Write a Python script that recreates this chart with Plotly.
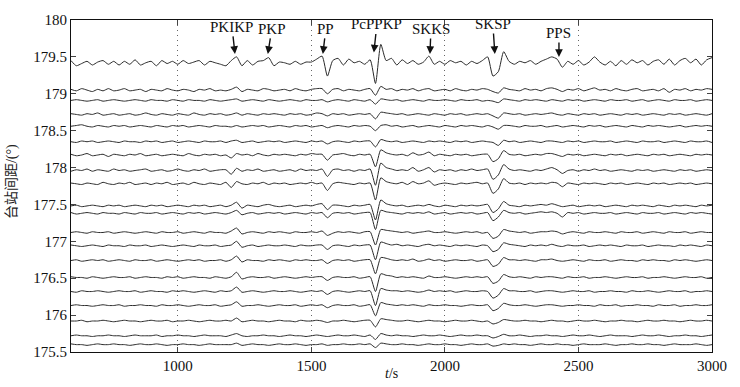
import plotly.graph_objects as go

# sampling grid (s)
times = list(range(600, 3001, 20))

# baseline epicentral distance of each trace (deg)
distances = [179.42, 179.05, 178.91, 178.72, 178.56, 178.35, 178.17, 177.96, 177.78, 177.48,
             177.38, 177.12, 176.94, 176.74, 176.51, 176.32, 176.13, 175.92, 175.72, 175.60]

# waveform amplitudes, in units of 0.01 deg
tr01 = [3, -4, -1, 2, -3, 1, 3, -2, 2, -3,
        2, -2, 4, -3, 0, 2, -4, 3, -1, 2,
        -2, 3, -1, 1, 3, -3, 2, 0, -2, -4,
        3, 8, -4, 3, -3, 2, 3, 7, -4, 1,
        0, -2, 2, -2, 1, 1, 5, 9, -18, 3,
        6, -3, 5, 0, 2, -2, 4, -28, 25, 3,
        6, -3, 4, -1, 3, -2, 1, 9, -2, 2,
        -2, 3, 0, 2, -3, 2, -1, 3, 8, -18,
        -12, 15, 2, -2, 2, 0, 3, -2, 2, 5,
        8, 5, -6, 2, -2, 3, -3, 1, 8, 1,
        -3, 2, -4, 3, -2, 4, 0, 3, -3, 2,
        4, -2, 5, -3, 3, 6, 0, 5, -3, 4, 7]
tr02 = [1, -1, 2, 0, -2, 1, -1, 2, -1, 0,
        2, -1, 0, 1, -2, 1, 0, -1, 2, 0,
        -1, 1, 0, -2, 1, 0, 2, -1, 0, -1,
        1, 4, -2, 1, 0, -1, 2, 1, -1, 0,
        1, -1, 2, 0, -1, 1, 2, 2, -5, 1,
        2, -1, 1, 0, -1, 1, 2, -7, 5, 1,
        2, -1, 1, 0, 2, -1, 1, 2, -1, 0,
        1, -1, 2, 0, -1, 1, 0, 2, 1, -2,
        -4, 3, 1, 0, -1, 2, 0, 1, -1, 2,
        3, 1, -2, 1, 0, 2, -1, 1, 3, 0,
        1, -1, 2, 0, -1, 1, 2, -1, 0, 1,
        -1, 2, -3, 1, 0, 2, -1, 1, 0, 2, 1]
tr03 = [0, 1, 0, -1, 0, 1, -1, 0, 1, 0,
        -1, 0, 1, 0, -1, 1, 0, 0, -1, 1,
        0, -1, 1, 0, 0, -1, 1, 0, -1, 0,
        1, 2, -1, 0, 1, 0, -1, 1, 0, -1,
        0, 1, 0, -1, 1, 0, 0, 1, -2, 0,
        1, 0, -1, 1, 0, -1, 1, -5, 2, 1,
        0, 1, -1, 0, 1, 0, -1, 1, 0, 0,
        1, 0, -1, 1, 0, 0, 1, -1, 0, -1,
        -3, 2, 1, 0, -1, 1, 0, 1, 0, -1,
        1, 0, -1, 1, 0, 1, -1, 0, 1, 0,
        -1, 1, 0, 0, 1, -1, 0, 1, -1, 0,
        1, 0, -1, 1, 0, 0, 1, -1, 0, 1, 0]
tr04 = [1, 0, -1, 1, 0, 2, -1, 0, 1, -1,
        0, 1, -1, 0, 2, 0, -1, 1, 0, -1,
        1, 0, -1, 2, 0, -1, 1, 0, 1, -1,
        0, 2, -1, 1, 0, -1, 1, 0, 1, 0,
        -1, 1, 0, 1, -1, 0, 2, 1, -2, 1,
        0, 1, -1, 0, 1, 0, 1, -6, 3, 2,
        1, 0, 1, -1, 0, 1, 0, -1, 1, 0,
        -1, 1, 0, 1, -1, 0, 1, 0, 1, -2,
        -5, 2, 1, 0, 1, -1, 0, 1, 0, 1,
        2, 0, -1, 1, 0, -1, 1, 0, 1, -1,
        0, 1, 0, -1, 1, 0, 1, -1, 0, 1,
        0, -1, 1, 0, 1, -1, 0, 1, 0, -1, 1]
tr05 = [0, 1, 2, 0, -1, 1, 0, -1, 1, 0,
        1, -1, 0, 1, 0, -1, 1, 0, -1, 1,
        0, 1, -1, 0, 1, 0, -1, 1, 0, 0,
        -1, 1, -1, 0, 1, 0, 1, -1, 0, 1,
        0, -1, 1, 0, 1, -1, 0, 1, -2, 0,
        1, 0, -1, 1, 0, 1, 0, -6, 1, 2,
        0, 1, -1, 0, 1, -1, 0, 1, 0, -1,
        1, 0, -1, 1, 0, 1, 0, -1, 1, -1,
        -4, 1, 1, 0, -1, 1, 0, 0, 1, -1,
        0, 1, -1, 0, 1, 0, -1, 1, 0, 1,
        -1, 0, 1, 0, -1, 1, 0, -1, 1, 0,
        1, 0, -1, 0, 1, -1, 0, 1, 0, 1, 0]
tr06 = [0, -1, 1, 0, 1, -1, 0, 1, 0, -1,
        1, 0, 0, -1, 1, 0, 1, -1, 0, 1,
        -1, 0, 1, 0, -1, 1, 0, 0, 1, -1,
        1, 2, -1, 0, 1, -1, 0, 1, 0, 1,
        -1, 0, 1, 0, -1, 1, 0, 1, -3, 0,
        1, 0, -1, 1, 0, 1, 1, -7, 3, 1,
        0, 1, -1, 0, 1, 0, -1, 1, 0, 1,
        0, -1, 1, 0, 1, -1, 0, 1, 0, -1,
        -5, 2, 0, 1, -1, 0, 1, 0, -1, 1,
        1, 0, -1, 1, 0, 1, -1, 0, 1, 0,
        0, 1, -1, 0, 1, 0, -1, 1, 0, 0,
        1, -1, 0, 1, 0, -1, 1, 0, 0, 1, -1]
tr07 = [1, -1, 0, 2, -1, 0, 1, -2, 1, 0,
        -1, 1, 0, 2, -1, 0, 1, -1, 0, 1,
        0, -1, 2, 0, -1, 1, 0, 1, -1, 0,
        -4, 2, 0, 1, -1, 2, 0, -1, 1, 0,
        1, 0, -1, 1, 0, 2, 1, 1, -7, 0,
        1, 2, 0, -1, 1, 0, 1, -16, 7, 3,
        1, 0, 1, -1, 3, 0, 1, 4, -1, 1,
        0, -1, 1, 0, 1, -1, 0, 1, 1, -9,
        -5, 6, 1, 0, 1, -1, 0, 1, 0, 2,
        2, 0, -2, 1, 0, 1, -1, 0, 1, 0,
        -1, 1, 0, 1, -1, 0, 1, 0, -1, 1,
        0, 1, -1, 0, 1, 0, -1, 1, 0, 1, 0]
tr08 = [-1, 1, 0, 2, -1, 1, 0, -1, 2, 0,
        1, -1, 0, 1, 2, -1, 0, 1, -1, 0,
        2, 0, -1, 1, 0, 2, -1, 0, 1, 1,
        -5, 3, -1, 1, 0, 2, -1, 0, 1, -1,
        0, 1, -1, 2, 0, 1, 0, 2, -8, 1,
        2, 0, 1, -1, 1, 0, 2, -20, 10, 4,
        2, 0, 1, 0, 4, -1, 1, 4, -2, 1,
        0, 1, -1, 1, 0, 2, 0, 1, 2, -12,
        -6, 8, 2, 0, 1, 0, -1, 1, 0, 2,
        4, 1, -4, 0, 1, -1, 1, 0, 2, 0,
        1, -1, 0, 1, 0, -1, 1, 0, 1, -1,
        0, 1, 0, -1, 1, 0, 1, -1, 0, 1, 0]
tr09 = [1, 0, -1, 1, 0, -1, 2, 0, -1, 1,
        0, 2, -1, 0, 1, -1, 1, 0, 2, -1,
        0, 1, -1, 2, 0, -1, 1, 0, -1, 2,
        -5, 3, 0, -1, 1, 0, 2, -1, 1, 0,
        1, -1, 0, 1, 0, 2, 0, 1, -9, 0,
        2, 1, 0, -1, 1, 0, 1, -22, 8, 3,
        1, 0, 2, -1, 3, 0, 1, 4, -2, 0,
        1, 0, -1, 1, 0, 1, 2, 0, 1, -13,
        -7, 7, 1, 0, 1, -1, 1, 0, 1, 0,
        2, 1, -4, 1, 0, -1, 1, 0, 1, 0,
        -1, 1, 0, 1, -1, 0, 1, 0, -1, 1,
        0, 1, -1, 0, 1, 0, 1, -1, 0, 1, 0]
tr10 = [0, 1, -1, 0, 1, 0, -1, 1, 0, 1,
        -1, 0, 1, 0, -1, 1, 0, 1, -1, 0,
        1, 0, -1, 1, 0, 1, -1, 0, 1, -1,
        1, 5, -3, 1, 0, -1, 1, 2, 0, -1,
        0, 1, -1, 0, 1, 0, 2, 3, -5, 1,
        1, 0, -1, 1, 0, 1, 2, -19, 8, 3,
        1, 0, 1, -1, 0, 1, 0, 2, 0, -1,
        1, 0, -1, 1, 0, 1, 0, 1, 2, -9,
        -4, 6, 1, 0, -1, 1, 0, 1, 2, 1,
        3, 1, -1, 0, 1, -1, 0, 1, 0, 1,
        -1, 0, 1, 0, -1, 1, 0, 1, 0, -1,
        1, 0, -1, 1, 0, 1, 0, -1, 1, 0, 1]
tr11 = [1, -1, 0, 1, 0, -1, 1, 0, 0, -1,
        1, 0, -1, 1, 0, 0, 1, -1, 0, 1,
        0, -1, 1, 0, 1, -1, 0, 1, 0, -1,
        1, 4, -2, 0, 1, -1, 0, 1, 0, 1,
        -1, 0, 1, 0, -1, 1, 0, 1, -6, 0,
        1, 0, 1, -1, 0, 1, 1, -22, 4, 2,
        1, 0, -1, 1, 0, 1, 0, 2, -1, 0,
        1, -1, 0, 1, 0, 1, -1, 0, 1, -10,
        -5, 4, 1, 0, 1, -1, 0, 1, 2, 1,
        2, 0, -5, 1, 0, 1, -1, 0, 1, 0,
        0, 1, -1, 0, 1, 0, -1, 1, 0, 0,
        1, -1, 0, 1, 0, -1, 1, 0, 1, 0, -1]
tr12 = [0, 1, 0, -1, 1, 0, 0, 1, -1, 0,
        1, 0, -1, 0, 1, 0, -1, 1, 0, 0,
        1, -1, 0, 1, 0, -1, 1, 0, 0, -1,
        2, 6, -2, 0, 1, 0, -1, 1, 0, 1,
        0, -1, 1, 0, 0, 1, 0, 2, -4, -1,
        1, 0, 1, 0, -1, 1, 1, -17, 4, 3,
        2, 1, 0, 1, -1, 0, 1, 2, 0, 0,
        1, 0, -1, 0, 1, 0, 1, -1, 0, -8,
        -5, 4, 2, 1, 0, 1, -1, 0, 1, 1,
        2, 1, -2, 0, 1, 0, -1, 1, 0, 0,
        1, 0, -1, 1, 0, 0, 1, -1, 0, 1,
        0, -1, 1, 0, 0, 1, -1, 0, 1, 0, 0]
tr13 = [1, 0, -1, 0, 1, 0, -1, 1, 0, 0,
        -1, 1, 0, 0, 1, -1, 0, 1, 0, -1,
        0, 1, 0, -1, 1, 0, 0, 1, -1, 0,
        1, 6, -2, 0, 1, -1, 0, 1, 0, 0,
        1, 0, -1, 1, 0, 0, 1, 1, -5, 0,
        1, 0, -1, 1, 0, 1, 1, -19, 5, 3,
        1, 2, 0, 1, 0, -1, 1, 2, 0, 1,
        0, -1, 1, 0, 1, 0, -1, 1, 0, -8,
        -5, 4, 2, 1, 0, -1, 1, 0, 1, 0,
        2, 0, -1, 1, 0, 0, 1, -1, 0, 1,
        0, 1, 0, -1, 1, 0, 0, 1, -1, 0,
        1, 0, 0, -1, 1, 0, 1, 0, -1, 1, 0]
tr14 = [0, 1, -1, 0, 1, 0, 1, -1, 0, 1,
        0, -1, 1, 0, 0, 1, -1, 0, 1, 0,
        -1, 0, 1, 0, 1, -1, 0, 0, 1, -1,
        1, 6, -2, 1, 0, 0, -1, 1, 0, 1,
        0, -1, 1, 0, 1, 0, 0, 1, -4, 0,
        1, 0, 1, -1, 0, 1, 1, -18, 4, 3,
        1, 0, 1, 0, 2, -1, 0, 2, 0, 1,
        -1, 0, 1, 0, 0, 1, -1, 0, 1, -8,
        -5, 4, 1, 1, 0, 1, 0, -1, 1, 1,
        2, 0, -1, 0, 1, 0, -1, 1, 0, 0,
        1, -1, 0, 1, 0, 0, -1, 1, 0, 1,
        0, 0, -1, 1, 0, 1, 0, -1, 0, 1, 0]
tr15 = [1, 0, 0, -1, 1, 0, -1, 0, 1, 0,
        0, 1, -1, 0, 1, 0, 0, -1, 1, 0,
        1, -1, 0, 1, 0, 0, -1, 1, 0, -1,
        1, 7, -2, 0, 1, 0, 0, 1, -1, 0,
        1, 0, -1, 0, 1, 0, 1, 1, -4, 0,
        1, 0, 0, 1, -1, 0, 1, -19, 5, 3,
        2, 0, 1, 0, 1, 0, -1, 2, 0, 0,
        1, 0, -1, 0, 1, 0, 1, 0, 1, -8,
        -5, 4, 1, 0, 1, 0, -1, 1, 0, 1,
        1, 0, -1, 1, 0, 0, 1, -1, 0, 0,
        1, 0, -1, 0, 1, 0, 0, 1, -1, 0,
        0, 1, 0, -1, 0, 1, 0, 0, 1, -1, 0]
tr16 = [0, -1, 1, 0, 0, 1, 0, -1, 0, 1,
        0, 0, 1, -1, 0, 1, 0, 0, -1, 1,
        0, 1, 0, -1, 0, 1, 0, -1, 1, 0,
        1, 6, -1, 0, 1, 0, -1, 0, 1, 0,
        0, 1, 0, -1, 0, 1, 0, 1, -4, 0,
        1, 0, -1, 0, 1, 0, 1, -19, 4, 2,
        1, 1, 0, 1, 0, -1, 0, 2, 0, 1,
        0, 1, -1, 0, 1, 0, 0, 1, 0, -9,
        -5, 4, 1, 1, 0, 0, 1, -1, 0, 1,
        1, 0, -1, 0, 1, 0, 0, 1, -1, 0,
        0, 1, 0, 0, -1, 1, 0, 0, 1, 0,
        -1, 0, 1, 0, 0, 1, -1, 0, 0, 1, 0]
tr17 = [0, 1, 0, 0, -1, 0, 1, 0, 0, 1,
        -1, 0, 0, 1, 0, 0, -1, 1, 0, 0,
        1, 0, -1, 0, 1, 0, 0, 1, -1, 0,
        1, 5, -1, 0, 0, 1, 0, -1, 0, 1,
        0, 0, 1, -1, 0, 1, 0, 1, -3, 0,
        1, 0, 0, 1, -1, 0, 1, -14, 4, 2,
        1, 0, 1, 0, 1, 0, -1, 1, 0, 0,
        1, 0, 0, -1, 0, 1, 0, 0, 1, -7,
        -4, 3, 1, 0, 0, 1, 0, -1, 0, 1,
        1, 0, -1, 0, 0, 1, 0, 0, -1, 1,
        0, 0, 1, -1, 0, 0, 1, 0, 0, -1,
        1, 0, 0, 1, -1, 0, 0, 1, 0, 0, 1]
tr18 = [0, 0, 1, -1, 0, 0, 1, 0, -1, 0,
        1, 0, 0, -1, 0, 1, 0, 0, 1, -1,
        0, 0, 1, 0, -1, 0, 1, 0, 0, 1,
        0, 4, -1, 0, 1, 0, 0, -1, 0, 1,
        0, 0, -1, 1, 0, 0, 1, 0, -2, 0,
        0, 1, 0, -1, 0, 1, 1, -8, 3, 2,
        1, 0, 0, 1, 0, -1, 0, 1, 0, 0,
        -1, 0, 1, 0, 0, 1, 0, -1, 0, -4,
        -2, 2, 1, 0, 0, 1, 0, 0, -1, 0,
        1, 0, 0, -1, 0, 1, 0, 0, 1, 0,
        -1, 0, 0, 1, 0, 0, -1, 0, 1, 0,
        0, 1, 0, 0, -1, 0, 1, 0, 0, 1, 0]
tr19 = [0, 1, 0, 0, -1, 0, 0, 1, 0, 0,
        -1, 0, 1, 0, 0, 0, 1, -1, 0, 0,
        1, 0, 0, -1, 0, 1, 0, 0, 0, -1,
        1, 3, 0, -1, 0, 0, 1, 0, 0, -1,
        0, 1, 0, 0, -1, 0, 1, 0, -1, 0,
        1, 0, 0, 1, 0, -1, 1, -5, 3, 1,
        0, 1, 0, 0, -1, 0, 1, 0, 0, 1,
        0, -1, 0, 1, 0, 0, 1, 0, 0, -3,
        -1, 2, 0, 0, 1, 0, -1, 0, 0, 1,
        0, 0, -1, 0, 1, 0, 0, 1, 0, -1,
        0, 1, 0, 0, 0, -1, 0, 1, 0, 0,
        1, 0, -1, 0, 0, 1, 0, 0, -1, 0, 1]
tr20 = [1, 0, 0, -1, 0, 1, 0, 0, 1, 0,
        0, -1, 0, 1, 0, 0, 1, 0, -1, 0,
        0, 1, 0, 0, -1, 0, 1, 0, 0, 0,
        0, 2, -1, 0, 1, 0, 0, -1, 0, 1,
        0, 0, 1, 0, -1, 0, 0, 1, -1, 0,
        0, 1, 0, 0, 1, 0, 1, -4, 2, 1,
        0, 0, 1, 0, 0, -1, 0, 1, 0, 0,
        1, 0, 0, -1, 0, 1, 0, 0, 1, -2,
        -1, 1, 0, 1, 0, 0, -1, 0, 1, 0,
        0, 1, 0, 0, -1, 0, 1, 0, 0, 0,
        1, 0, -1, 0, 0, 1, 0, 0, 1, 0,
        0, -1, 0, 1, 0, 0, 0, 1, 0, -1, 0]

waveforms = [tr01, tr02, tr03, tr04, tr05, tr06, tr07, tr08, tr09, tr10,
             tr11, tr12, tr13, tr14, tr15, tr16, tr17, tr18, tr19, tr20]

# seismic phase labels and arrival times (s)
phase_names = ["PKIKP", "PKP", "PP", "PcPPKP", "SKKS", "SKSP", "PPS"]
phase_times = [1214, 1337, 1543, 1734, 1944, 2187, 2427]
phase_tip = [179.54, 179.54, 179.54, 179.56, 179.54, 179.54, 179.50]
phase_label_dx = [-3, 4, 3, 3, 1, -2, 0]
phase_label_dy = [-27, -25, -25, -28, -25, -30, -24]

x_ticks = [1000, 1500, 2000, 2500, 3000]
y_ticks = [175.5, 176, 176.5, 177, 177.5, 178, 178.5, 179, 179.5, 180]

UNIT = 0.01
SERIF = "Liberation Serif, Times New Roman, serif"

fig = go.Figure()
for base, wf in zip(distances, waveforms):
    assert len(wf) == len(times)
    fig.add_trace(go.Scatter(
        x=times, y=[base + v * UNIT for v in wf], mode="lines",
        line=dict(color="#2a2a2a", width=1, shape="spline", smoothing=0.6),
        showlegend=False, hoverinfo="skip"))

for name, t, tip, dx, dy in zip(phase_names, phase_times, phase_tip, phase_label_dx, phase_label_dy):
    fig.add_annotation(x=t, y=tip, xref="x", yref="y", text=name, showarrow=True,
                       ax=dx, ay=dy, arrowhead=2, arrowsize=1.1, arrowwidth=1.4,
                       arrowcolor="#111", standoff=0,
                       font=dict(family=SERIF, size=15, color="#111"))

fig.add_annotation(text="台站间距/(°)", xref="paper", yref="paper", x=-0.092, y=0.512,
                   textangle=-90, showarrow=False, xanchor="center", yanchor="middle",
                   font=dict(family="Liberation Serif, Noto Sans CJK SC", size=14, color="#222"))
fig.add_annotation(text="<i>t</i>/s", xref="paper", yref="paper", x=0.5, y=-0.066,
                   showarrow=False, xanchor="center", yanchor="middle",
                   font=dict(family=SERIF, size=14, color="#111"))

fig.update_layout(
    width=740, height=387,
    margin=dict(l=71, r=28, t=18, b=35),
    paper_bgcolor="white", plot_bgcolor="white",
    font=dict(family=SERIF, size=15, color="#111"),
    xaxis=dict(range=[600, 3000], tickvals=x_ticks, ticks="inside", ticklen=5,
               showline=True, linecolor="#111", linewidth=1, mirror="ticks",
               showgrid=True, gridcolor="#666", griddash="1px,4px", gridwidth=1,
               zeroline=False, tickfont=dict(family=SERIF, size=15)),
    yaxis=dict(range=[175.5, 180], tickvals=y_ticks, ticks="inside", ticklen=5,
               showline=True, linecolor="#111", linewidth=1, mirror="ticks",
               showgrid=False, zeroline=False, tickfont=dict(family=SERIF, size=15)),
)

fig.write_html("out.html", config={"displayModeBar": False},
               post_script="document.body.style.margin='0';")
